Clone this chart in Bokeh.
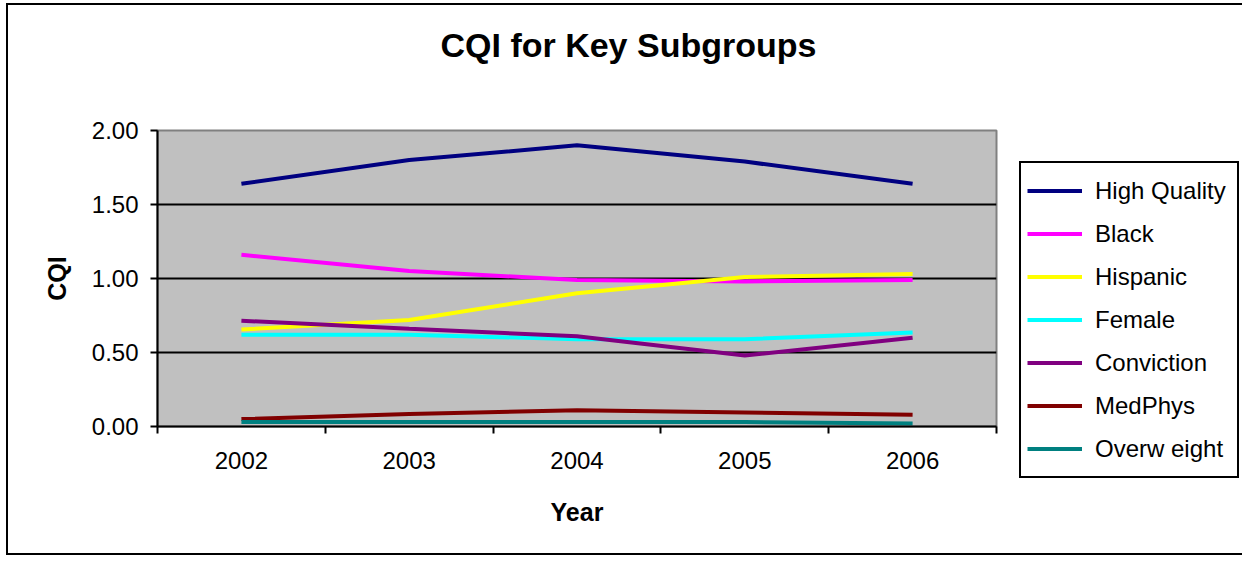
from bokeh.plotting import figure
from bokeh.models import (FixedTicker, NumeralTickFormatter, Legend, LegendItem,
                          Range1d, Title)
from bokeh.embed import file_html
from bokeh.resources import INLINE

years = ["2002", "2003", "2004", "2005", "2006"]
high_quality = [1.64, 1.80, 1.90, 1.79, 1.64]
black = [1.16, 1.05, 0.99, 0.98, 0.99]
hispanic = [0.655, 0.72, 0.90, 1.01, 1.03]
female = [0.62, 0.62, 0.59, 0.59, 0.635]
conviction = [0.715, 0.66, 0.61, 0.48, 0.60]
medphys = [0.05, 0.085, 0.11, 0.095, 0.08]
overweight = [0.03, 0.03, 0.03, 0.03, 0.02]

series_names = ["High Quality", "Black", "Hispanic", "Female", "Conviction",
                "MedPhys", "Overw eight"]
series_values = [high_quality, black, hispanic, female, conviction, medphys, overweight]
series_colors = ["#000080", "#FF00FF", "#FFFF00", "#00FFFF", "#800080",
                 "#800000", "#008080"]

FONT = "Liberation Sans"

p = figure(frame_width=839, frame_height=296, output_backend="svg", toolbar_location=None,
           x_range=Range1d(0, len(years)), y_range=Range1d(0, 2),
           min_border_left=157, min_border_right=238,
           min_border_top=130, min_border_bottom=129,
           background_fill_color="#C0C0C0", border_fill_color="white",
           border_fill_alpha=0,
           outline_line_color="#808080", outline_line_width=2)
p.styles = {"box-shadow": ("inset 6px 3px 0 0 white, inset 8px 5px 0 0 black, "
                           "inset -2px -2px 0 0 black")}

p.title = Title(text="CQI for Key Subgroups", text_font=FONT, text_font_size="34px",
                text_font_style="bold", align="left", offset=283, standoff=10,
                text_color="black")
# spacer between title and plot area
p.add_layout(Title(text=" ", text_font=FONT, text_font_size="10px", standoff=49), "above")

xs = [i + 0.5 for i in range(len(years))]
items = []
for name, vals, col in zip(series_names, series_values, series_colors):
    r = p.line(xs, vals, line_color=col, line_width=4)
    items.append(LegendItem(label=name, renderers=[r]))

# x axis
xa = p.xaxis[0]
xa.ticker = FixedTicker(ticks=xs, minor_ticks=list(range(len(years) + 1)))
xa.major_label_overrides = {x: y for x, y in zip(xs, years)}
xa.major_tick_line_color = None
xa.minor_tick_in = 0
xa.minor_tick_out = 7
xa.minor_tick_line_color = "black"
xa.minor_tick_line_width = 2
xa.axis_line_color = "black"
xa.axis_line_width = 2
xa.major_label_text_font = FONT
xa.major_label_text_font_size = "24px"
xa.major_label_text_color = "black"
xa.major_label_standoff = 18
xa.axis_label = "Year"
xa.axis_label_text_font = FONT
xa.axis_label_text_font_size = "25px"
xa.axis_label_text_font_style = "bold"
xa.axis_label_text_color = "black"
xa.axis_label_standoff = 26

# y axis
ya = p.yaxis[0]
ya.ticker = FixedTicker(ticks=[0, 0.5, 1.0, 1.5, 2.0])
ya.formatter = NumeralTickFormatter(format="0.00")
ya.major_tick_in = 0
ya.major_tick_out = 7
ya.major_tick_line_color = "black"
ya.major_tick_line_width = 2
ya.minor_tick_line_color = None
ya.axis_line_color = "black"
ya.axis_line_width = 2
ya.major_label_text_font = FONT
ya.major_label_text_font_size = "24px"
ya.major_label_text_color = "black"
ya.major_label_standoff = 12
ya.axis_label = "CQI"
ya.axis_label_text_font = FONT
ya.axis_label_text_font_size = "25px"
ya.axis_label_text_font_style = "bold"
ya.axis_label_text_color = "black"
ya.axis_label_standoff = 18

p.xgrid.grid_line_color = None
p.ygrid.ticker = FixedTicker(ticks=[0.5, 1.0, 1.5])
p.ygrid.grid_line_color = "black"
p.ygrid.grid_line_width = 2

legend = Legend(items=items, location=(23, -52),
                label_text_font=FONT, label_text_font_size="24px",
                label_text_color="black",
                glyph_width=55, glyph_height=43, label_height=43, label_width=136,
                label_standoff=13, spacing=0, padding=6, margin=0,
                border_line_color="black", border_line_width=2, border_line_alpha=1,
                background_fill_color="white", background_fill_alpha=1)
p.add_layout(legend, "right")

open("out.html", "w").write(file_html(p, INLINE))
